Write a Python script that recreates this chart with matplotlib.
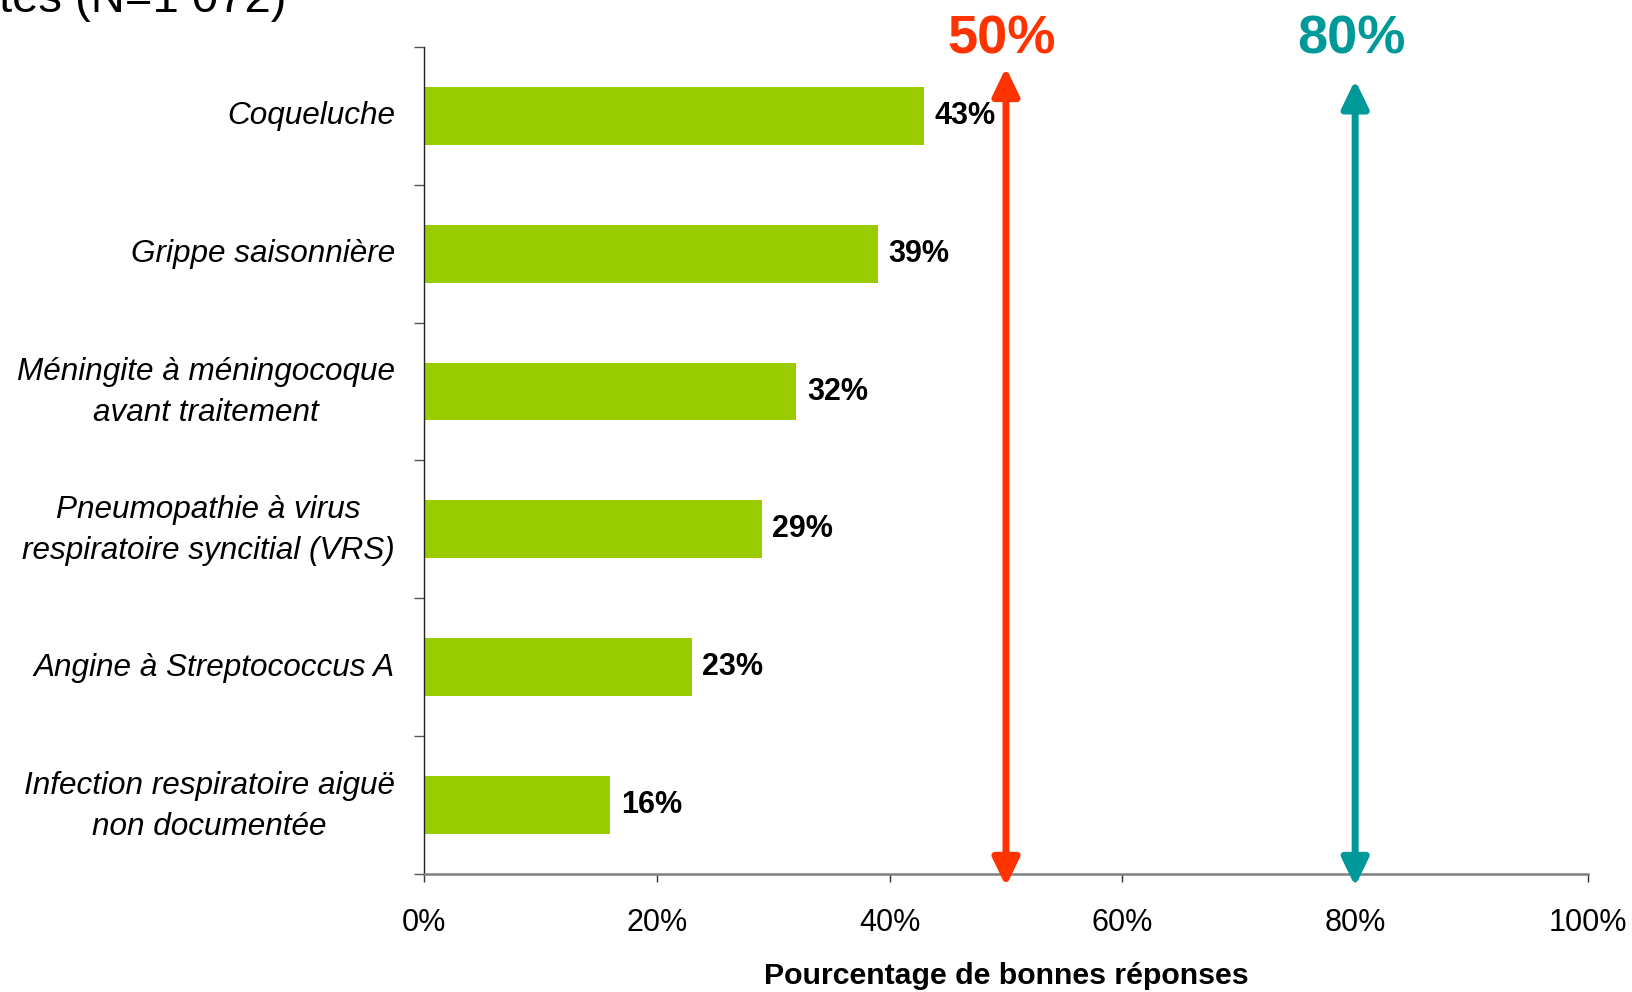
import matplotlib
matplotlib.use("Agg")
import matplotlib.pyplot as plt
import matplotlib.transforms as mtransforms
from matplotlib.ticker import MultipleLocator, FixedLocator, FuncFormatter

plt.rcParams['font.family'] = ['Liberation Sans', 'DejaVu Sans']

# Data
categories = [
    "Coqueluche",
    "Grippe saisonnière",
    "Méningite à méningocoque\navant traitement",
    "Pneumopathie à virus\nrespiratoire syncitial (VRS)",
    "Angine à Streptococcus A",
    "Infection respiratoire aiguë\nnon documentée",
]
values = [43, 39, 32, 29, 23, 16]
targets = [50, 80]
target_labels = ["50%", "80%"]
target_colors = ["#FF3300", "#009999"]
target_tops = [0.975, 0.960]  # arrow tip height, axes fraction

bar_color = "#99CC00"

fig = plt.figure(figsize=(16.32, 9.92), dpi=100)
ax = fig.add_axes([0.2598, 0.119, 0.7132, 0.8337])

ypos = list(range(len(categories)))
ax.barh(ypos, values, height=0.42, color=bar_color, zorder=2)

ax.set_ylim(len(categories) - 0.5, -0.5)
ax.set_xlim(0, 100)

# Value labels
for y, v in zip(ypos, values):
    ax.annotate(f"{v}%", xy=(v, y), xytext=(7.5, 0), textcoords="offset points",
                ha="left", va="center", fontsize=22, fontweight="bold", color="black")

# Category labels
ax.set_yticks(ypos)
ax.set_yticklabels(categories, fontsize=22.7, style="italic", multialignment="center",
                   linespacing=1.48)
ax.tick_params(axis="y", which="major", length=0, pad=21)
for lbl in ax.get_yticklabels():
    dy = 8 if "\n" in lbl.get_text() else 3
    lift = mtransforms.ScaledTranslation(0, dy / 100, fig.dpi_scale_trans)
    lbl.set_transform(lbl.get_transform() + lift)
ax.yaxis.set_minor_locator(FixedLocator([i - 0.5 for i in range(len(categories) + 1)]))
ax.tick_params(axis="y", which="minor", length=7, width=1, color="#555555", direction="out")

# X axis
ax.xaxis.set_major_locator(MultipleLocator(20))
ax.xaxis.set_major_formatter(FuncFormatter(lambda x, p: f"{int(round(x))}%"))
ax.tick_params(axis="x", which="major", length=6, width=1, color="#333333",
               labelsize=22, pad=18.5)
ax.set_xlabel("Pourcentage de bonnes réponses", fontsize=21.8, fontweight="bold",
              labelpad=17)

for side in ["top", "right"]:
    ax.spines[side].set_visible(False)
ax.spines["left"].set_color("#222222")
ax.spines["left"].set_linewidth(1.0)
ax.spines["bottom"].set_color("#808080")
ax.spines["bottom"].set_linewidth(1.8)

# Target arrows
for t, lab, col, top in zip(targets, target_labels, target_colors, target_tops):
    ax.annotate("", xy=(t, top), xytext=(t, -0.015),
                xycoords=("data", "axes fraction"), textcoords=("data", "axes fraction"),
                arrowprops=dict(arrowstyle="<|-|>,head_length=0.83,head_width=0.4",
                                mutation_scale=20, color=col, lw=5,
                                shrinkA=0, shrinkB=0),
                annotation_clip=False, zorder=4)
    ax.annotate(lab, xy=(t, 1.009), xycoords=("data", "axes fraction"),
                xytext=(-3, 0), textcoords="offset points",
                ha="center", va="center", fontsize=39, fontweight="bold", color=col,
                annotation_clip=False)

# Title fragment at the top-left edge
fig.text(286 / 1632, (992 - 12) / 992, "tes (N=1 072)", ha="right", va="baseline",
         fontsize=34, color="black")

fig.savefig("out.png", dpi=100)
